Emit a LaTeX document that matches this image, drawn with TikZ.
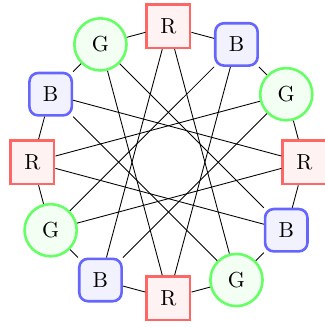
\documentclass[tikz,border=0pt]{standalone}
\usetikzlibrary{shapes.geometric}

\tikzset{
  rnode/.style={draw=red!60,fill=red!5,very thick,rectangle,minimum size=20pt},
  bnode/.style={draw=blue!60,fill=blue!5,very thick,rectangle,rounded corners=4pt,minimum size=19.5pt},
  gnode/.style={draw=green!60,fill=green!5,very thick,circle,minimum size=24pt},
}

\begin{document}
\begin{tikzpicture}
    \useasboundingbox (-2.724,-2.665) rectangle (2.517,2.623);
    % ring of nodes, clockwise from the top ============================
    \node[rnode] (R1) at (90:2.2)   {R};
    \node[bnode] (B1) at (60:2.2)   {B};
    \node[gnode] (G1) at (30:2.2)   {G};
    \node[rnode] (R2) at (0:2.2)    {R};
    \node[bnode] (B2) at (-30:2.2)  {B};
    \node[gnode] (G2) at (-60:2.2)  {G};
    \node[rnode] (R3) at (-90:2.2)  {R};
    \node[bnode] (B3) at (-120:2.2) {B};
    \node[gnode] (G3) at (-150:2.2) {G};
    \node[rnode] (R4) at (180:2.2)  {R};
    \node[bnode] (B4) at (150:2.2)  {B};
    \node[gnode] (G4) at (120:2.2)  {G};
    % neighbours =======================================================
    \draw (R1) -- (B1); \draw (B1) -- (G1); \draw (G1) -- (R2); \draw (R2) -- (B2);
    \draw (B2) -- (G2); \draw (G2) -- (R3); \draw (R3) -- (B3); \draw (B3) -- (G3);
    \draw (G3) -- (R4); \draw (R4) -- (B4); \draw (B4) -- (G4); \draw (G4) -- (R1);
    % chords, five steps apart =========================================
    \draw (R1) -- (G2); \draw (B1) -- (R3); \draw (G1) -- (B3); \draw (R2) -- (G3);
    \draw (B2) -- (R4); \draw (G2) -- (B4); \draw (R3) -- (G4); \draw (B3) -- (R1);
    \draw (G3) -- (B1); \draw (R4) -- (G1); \draw (B4) -- (R2); \draw (G4) -- (B2);
\end{tikzpicture}
\end{document}
